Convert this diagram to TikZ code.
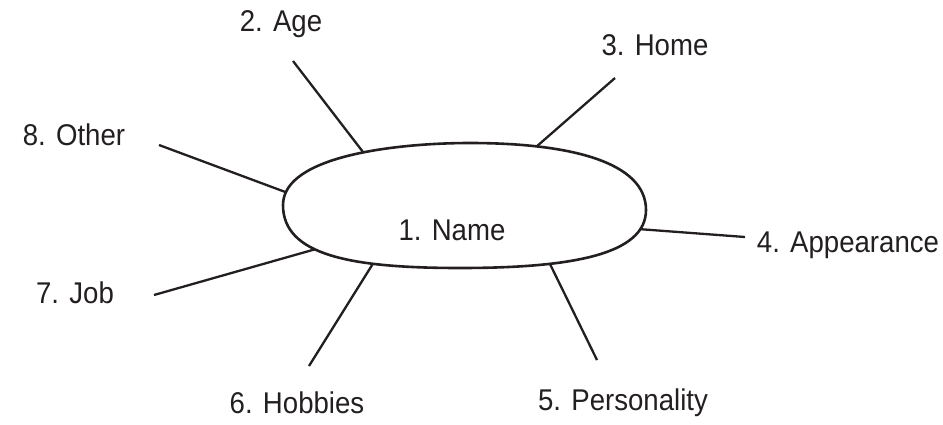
\documentclass[tikz,border=0pt]{standalone}
\usepackage{fontspec}
\setmainfont[FakeStretch=0.92]{Liberation Sans}
\definecolor{ink}{HTML}{231F20}
\begin{document}
\begin{tikzpicture}[x=1pt,y=-1pt,
  lbl/.style={anchor=base,inner sep=0pt,text=ink,font=\fontsize{30}{34}\selectfont},
  spoke/.style={draw=ink,line width=2.3pt},
  blob/.style={draw=ink,line width=2.6pt,fill=white}]
\useasboundingbox (0,0) rectangle (943,424);
% spokes (drawn first, blob covers inner ends)
\coordinate (ageO) at (293,61);   \coordinate (ageI) at (363,152);
\coordinate (homeO) at (615,78);  \coordinate (homeI) at (536,147);
\coordinate (othO) at (159,145);  \coordinate (othI) at (288,193);
\coordinate (appO) at (745,237);  \coordinate (appI) at (638,229);
\coordinate (jobO) at (154,295);  \coordinate (jobI) at (316,249);
\coordinate (hobO) at (309,366);  \coordinate (hobI) at (374,262);
\coordinate (perO) at (597,360);  \coordinate (perI) at (549,262);
\draw[spoke] (ageO) -- (ageI);
\draw[spoke] (homeO) -- (homeI);
\draw[spoke] (othO) -- (othI);
\draw[spoke] (appO) -- (appI);
\draw[spoke] (jobO) -- (jobI);
\draw[spoke] (hobO) -- (hobI);
\draw[spoke] (perO) -- (perI);
% central blob
\draw[blob] (283,205) .. controls (283,155) and (400,143) .. (470,143)
  .. controls (570,143) and (646,162) .. (646,210)
  .. controls (646,255) and (570,268) .. (460,268)
  .. controls (350,268) and (283,255) .. (283,205) -- cycle;
% labels
\node[lbl] (name) at (452,240) {1. Name};
\node[lbl] (age) at (281,31) {2. Age};
\node[lbl] (home) at (655,55) {3. Home};
\node[lbl] (app) at (848,252) {4. Appearance};
\node[lbl] (pers) at (623,410) {5. Personality};
\node[lbl] (hob) at (297,413) {6. Hobbies};
\node[lbl] (job) at (75,303) {7. Job};
\node[lbl] (oth) at (74,145) {8. Other};
\end{tikzpicture}
\end{document}
